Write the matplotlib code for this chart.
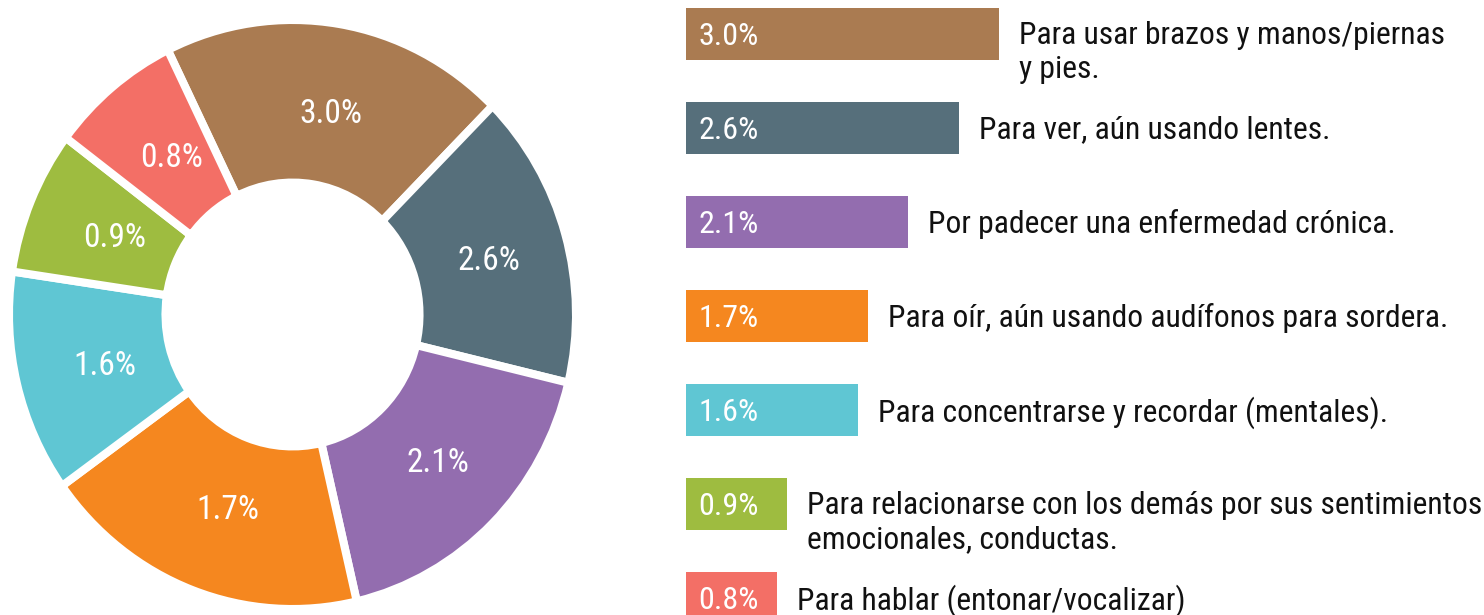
import matplotlib
matplotlib.use("Agg")
import matplotlib.pyplot as plt
import numpy as np

# Data
labels = ["3.0%", "2.6%", "2.1%", "1.7%", "1.6%", "0.9%", "0.8%"]
values = [3.0, 2.6, 2.1, 1.7, 1.6, 0.9, 0.8]
# slice sizes as drawn in the donut (degrees, not proportional to the values)
slice_deg = [71, 58.5, 63.5, 67.5, 44, 28.5, 27]
descriptions = [
    "Para usar brazos y manos/piernas\ny pies.",
    "Para ver, aún usando lentes.",
    "Por padecer una enfermedad crónica.",
    "Para oír, aún usando audífonos para sordera.",
    "Para concentrarse y recordar (mentales).",
    "Para relacionarse con los demás por sus sentimientos\nemocionales, conductas.",
    "Para hablar (entonar/vocalizar)",
]
colors = ["#AA7B51", "#566F7B", "#936DAF", "#F5871F", "#5FC6D3", "#9EBC40", "#F36F66"]

plt.rcParams["font.family"] = ["Roboto Condensed", "Liberation Sans Narrow", "Roboto", "DejaVu Sans"]

W, H = 1484, 615
fig = plt.figure(figsize=(W / 100, H / 100), dpi=100)

# Donut (slightly taller than wide, like the reference)
cx, cy, rx, ry = 292.5, 314.5, 283.5, 294.5
ax1 = fig.add_axes([(cx - rx) / W, (H - cy - ry) / H, 2 * rx / W, 2 * ry / H])
wedges, _ = ax1.pie(
    slice_deg,
    colors=colors,
    startangle=116.1,
    counterclock=False,
    radius=1,
    wedgeprops=dict(width=0.552, edgecolor="white", linewidth=5.8),
)
ax1.set_aspect("auto")
ax1.set_xlim(-1, 1)
ax1.set_ylim(-1, 1)
for w, lab in zip(wedges, labels):
    ang = np.deg2rad((w.theta1 + w.theta2) / 2)
    ax1.annotate(lab, xy=(0.70 * np.cos(ang), 0.70 * np.sin(ang)),
                 xytext=(4, -2), textcoords="offset points", color="white",
                 fontsize=24, ha="center", va="center")

# Bars on the right
ax2 = fig.add_axes([686 / W, 0, (W - 686) / W, 1])
ypos = np.arange(len(values))
x0 = -0.1
ax2.barh(ypos, np.array(values) - x0, left=x0, height=0.55, color=colors)
ax2.set_xlim(x0, x0 + (W - 686) / 101)
ax2.set_ylim((H - 34) / 94, -34 / 94)
ax2.axis("off")
for y, v, lab, desc in zip(ypos, values, labels, descriptions):
    ax2.annotate(lab, xy=(x0 + 0.12, y), xytext=(0, -2), textcoords="offset points",
                 color="white", fontsize=23, ha="left", va="center")
    ax2.annotate(desc, xy=(v + 0.2, y), xytext=(0, 9.5), textcoords="offset points",
                 fontsize=22.8, ha="left", va="top", linespacing=1.22, color="#111111")

fig.savefig("out.png", dpi=100)
